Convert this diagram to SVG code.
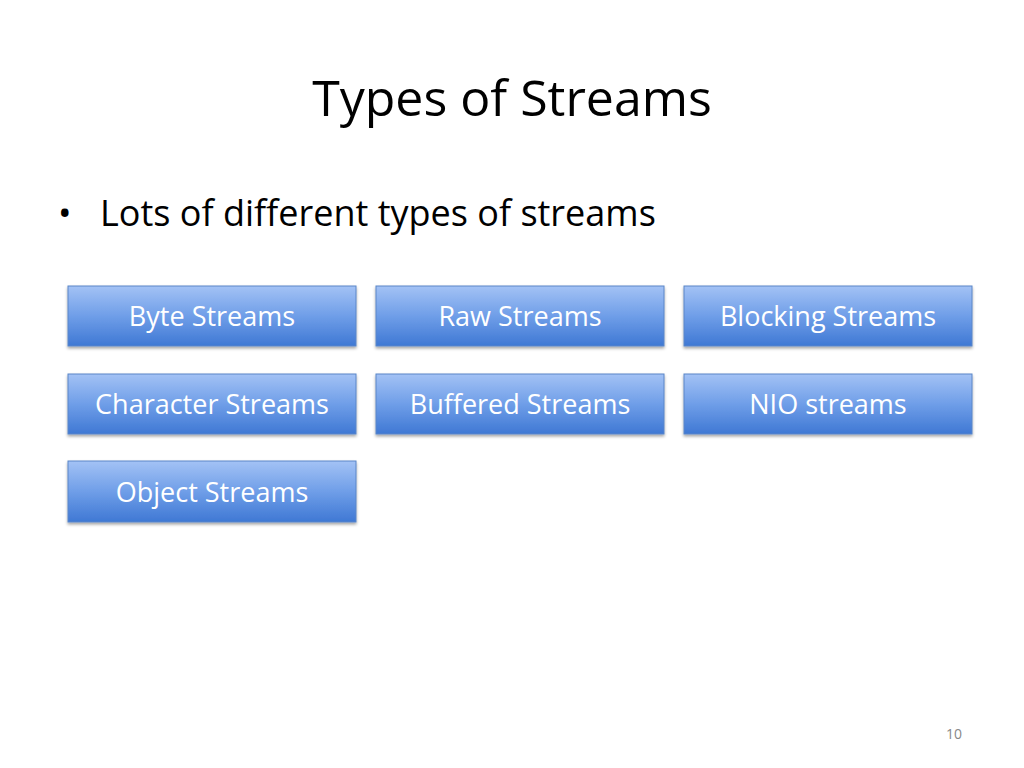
<svg xmlns="http://www.w3.org/2000/svg" width="1024" height="768" viewBox="0 0 1024 768">
<style>
.t{font-family:"Open Sans","Liberation Sans",sans-serif;fill:#000}
.b{font-family:"Open Sans","Liberation Sans",sans-serif;font-size:27px;fill:#fff;text-anchor:middle}
.r{fill:url(#g);stroke:#5a86c8;stroke-width:1;filter:url(#s)}
</style>
<defs>
<linearGradient id="g" x1="0" y1="0" x2="0" y2="1">
<stop offset="0" stop-color="#a3c2f5"/><stop offset="0.5" stop-color="#6f9ee8"/><stop offset="1" stop-color="#3f78d4"/>
</linearGradient>
<filter id="s" x="-5%" y="-20%" width="110%" height="150%"><feDropShadow dx="0" dy="2" stdDeviation="1.5" flood-opacity="0.35"/></filter>
</defs>
<rect width="1024" height="768" fill="#fff"/>
<text class="t" x="512" y="116" font-size="50" text-anchor="middle">Types of Streams</text>
<text class="t" x="58" y="226" font-size="36">•</text>
<text class="t" x="100" y="226" font-size="36">Lots of different types of streams</text>
<g id="n1"><rect class="r" x="68" y="286" width="288" height="60"/><text class="b" x="212" y="326">Byte Streams</text></g>
<g id="n2"><rect class="r" x="376" y="286" width="288" height="60"/><text class="b" x="520" y="326">Raw Streams</text></g>
<g id="n3"><rect class="r" x="684" y="286" width="288" height="60"/><text class="b" x="828" y="326">Blocking Streams</text></g>
<g id="n4"><rect class="r" x="68" y="374" width="288" height="60"/><text class="b" x="212" y="414">Character Streams</text></g>
<g id="n5"><rect class="r" x="376" y="374" width="288" height="60"/><text class="b" x="520" y="414">Buffered Streams</text></g>
<g id="n6"><rect class="r" x="684" y="374" width="288" height="60"/><text class="b" x="828" y="414">NIO streams</text></g>
<g id="n7"><rect class="r" x="68" y="461" width="288" height="61"/><text class="b" x="212" y="502">Object Streams</text></g>
<g id="connectors"></g>
<text class="t" x="954" y="739" font-size="14" fill="#888" text-anchor="middle" style="fill:#888">10</text>
</svg>
